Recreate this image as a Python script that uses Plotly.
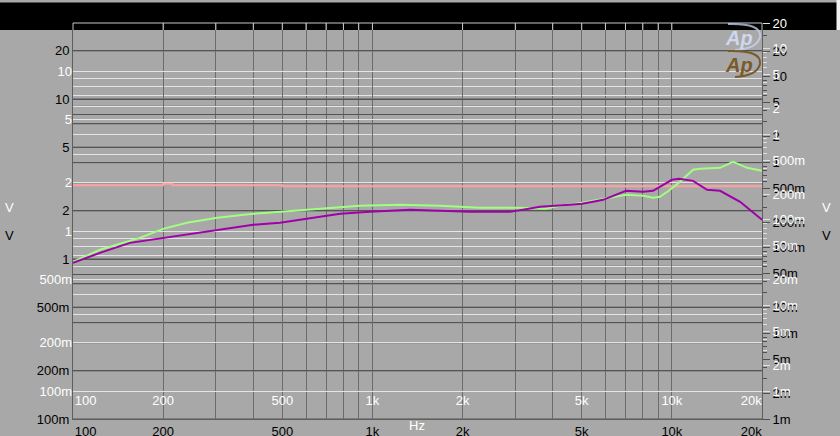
import math
import plotly.graph_objects as go

# ---------------- data ----------------
freq_purple = [100, 123, 155, 200, 303, 400, 491, 573, 780, 982, 1335, 1682,
               2100, 2882, 3629, 4571, 5013, 5456, 5890, 7031, 8014, 8653,
               10000, 10570, 11770, 13110, 14490, 16900, 20000]
volt_purple = [0.632, 0.730, 0.843, 0.906, 1.017, 1.093, 1.125, 1.174, 1.280,
               1.317, 1.356, 1.337, 1.317, 1.317, 1.416, 1.457, 1.479, 1.522,
               1.566, 1.783, 1.757, 1.783, 2.089, 2.119, 2.058, 1.809, 1.783,
               1.522, 1.174]

freq_green = [100, 123, 167, 200, 240, 303, 400, 491, 573, 722, 909, 1237,
              1682, 2288, 3112, 3771, 4233, 5013, 5758, 7031, 8014, 8653,
              9130, 9863, 10650, 11770, 12420, 14490, 16010, 17840, 20000]
volt_green = [0.642, 0.763, 0.906, 1.031, 1.125, 1.209, 1.280, 1.317, 1.356,
              1.396, 1.437, 1.457, 1.437, 1.396, 1.396, 1.376, 1.437, 1.500,
              1.566, 1.683, 1.659, 1.612, 1.635, 1.809, 2.029, 2.412, 2.446,
              2.482, 2.704, 2.482, 2.377]

freq_pink = [100, 190, 200, 215, 400, 500, 1000, 2000, 5000, 10000, 20000]
volt_pink = [1.929, 1.929, 1.971, 1.929, 1.929, 1.902, 1.902, 1.902, 1.902, 1.902, 1.902]

x_tickvals = [100, 200, 500, 1000, 2000, 5000, 10000, 20000]
x_ticktext = ["100", "200", "500", "1k", "2k", "5k", "10k", "20k"]
x_minor = [300, 400, 600, 700, 800, 900, 3000, 4000, 6000, 7000, 8000, 9000]

yl_tickvals = [0.1, 0.2, 0.5, 1, 2, 5, 10, 20]
yl_ticktext = ["100m", "200m", "500m", "1", "2", "5", "10", "20"]
yl_minor = [0.3, 0.4, 0.6, 0.7, 0.8, 0.9, 3, 4, 6, 7, 8, 9]

yr_tickvals = [0.001, 0.002, 0.005, 0.01, 0.02, 0.05, 0.1, 0.2, 0.5, 1, 2, 5, 10, 20]
yr_ticktext = ["1m", "2m", "5m", "10m", "20m", "50m", "100m", "200m", "500m",
               "1", "2", "5", "10", "20"]
yr_minor = [m * d for d in (0.001, 0.01, 0.1, 1) for m in (3, 4, 6, 7, 8, 9)] + [30]

# ---------------- geometry helpers (layout only) ----------------
W, H = 840, 436
L, R, T, B = 73, 762, 23, 419
PW, PH = R - L, B - T
OFF = 28  # vertical offset between the two superimposed graphs
PX_DEC_L = 160.0
PX_DEC_R = (B - 51) / math.log10(20 / 0.001)


def px(xp):
    return (xp - L) / PW


def py(yp):
    return (B - yp) / PH


BG = "#a8a8a8"
DARK = "#555555"
VGRID = "#6c6c6c"
LIGHT = "#e4e4e4"
FONT = "Liberation Sans, Arial, sans-serif"

NB = "\u00a0"
xt_text = [NB * 7 + x_ticktext[0]] + x_ticktext[1:-1] + [x_ticktext[-1] + NB * 6]

fig = go.Figure()
# empty traces so that every overlaid axis is instantiated and drawn
for xa, ya in (("x", "y"), ("x2", "y"), ("x", "y3"), ("x", "y4")):
    fig.add_trace(go.Scatter(x=[], y=[], xaxis=xa, yaxis=ya, mode="lines", hoverinfo="skip"))

fig.add_trace(go.Scatter(x=freq_pink, y=volt_pink, xaxis="x", yaxis="y2", mode="lines",
                         line=dict(color="#ffa0a0", width=2, shape="hv"), hoverinfo="skip"))
fig.add_trace(go.Scatter(x=freq_green, y=volt_green, xaxis="x", yaxis="y2", mode="lines",
                         line=dict(color="#a0ff80", width=2), hoverinfo="skip"))
fig.add_trace(go.Scatter(x=freq_purple, y=volt_purple, xaxis="x", yaxis="y2", mode="lines",
                         line=dict(color="#a000a8", width=2), hoverinfo="skip"))

xr = [2, math.log10(20000)]
tickfont_k = dict(family=FONT, size=13, color="#000000")
tickfont_w = dict(family=FONT, size=13, color="#ffffff")

yA = [-1, -1 + PH / PX_DEC_L]
yB = [-1 - OFF / PX_DEC_L, -1 - OFF / PX_DEC_L + PH / PX_DEC_L]
yRA = [-3, -3 + PH / PX_DEC_R]
yRB = [-3 - OFF / PX_DEC_R, -3 - OFF / PX_DEC_R + PH / PX_DEC_R]

fig.update_layout(
    width=W, height=H,
    margin=dict(l=L, r=W - R, t=T, b=H - B, pad=0),
    paper_bgcolor=BG, plot_bgcolor="rgba(0,0,0,0)",
    showlegend=False,
    xaxis=dict(type="log", range=xr, tickmode="array", tickvals=x_tickvals, ticktext=xt_text,
               tickfont=tickfont_k, ticks="", showgrid=True, gridcolor=VGRID, gridwidth=1,
               minor=dict(tickmode="array", tickvals=x_minor, showgrid=True, gridcolor=VGRID,
                          gridwidth=1, ticks=""),
               showline=True, linecolor="#5e5e5e", linewidth=1, zeroline=False,
               automargin=False, fixedrange=True),
    xaxis2=dict(type="log", range=xr, overlaying="x", anchor="free", position=py(B - OFF),
                tickmode="array", tickvals=x_tickvals, ticktext=xt_text, tickfont=tickfont_w,
                ticks="", showgrid=False, showline=False, zeroline=False, automargin=False),
    yaxis=dict(type="log", range=yA, tickmode="array", tickvals=yl_tickvals, ticktext=yl_ticktext,
               tickfont=tickfont_k, ticks="", showgrid=True, gridcolor=DARK, gridwidth=1,
               minor=dict(tickmode="array", tickvals=yl_minor, showgrid=True, gridcolor=DARK,
                          gridwidth=1, ticks=""),
               showline=True, linecolor="#5e5e5e", linewidth=1, zeroline=False,
               automargin=False),
    yaxis2=dict(type="log", range=yB, overlaying="y", anchor="x", side="left",
                tickmode="array", tickvals=yl_tickvals, ticktext=yl_ticktext,
                tickfont=tickfont_w, ticks="", showgrid=True, gridcolor=LIGHT, gridwidth=1,
                minor=dict(tickmode="array", tickvals=yl_minor, showgrid=True, gridcolor=LIGHT,
                           gridwidth=1, ticks=""),
                showline=False, zeroline=False, automargin=False),
    yaxis3=dict(type="log", range=yRA, overlaying="y", anchor="x", side="right",
                tickmode="array", tickvals=yr_tickvals, ticktext=yr_ticktext,
                tickfont=tickfont_k, ticks="outside", ticklen=7, tickcolor="#505050",
                showgrid=False,
                minor=dict(tickmode="array", tickvals=yr_minor, ticks="outside", ticklen=4,
                           tickcolor="#505050", showgrid=False),
                showline=True, linecolor="#5e5e5e", zeroline=False, automargin=False),
    yaxis4=dict(type="log", range=yRB, overlaying="y", anchor="x", side="right",
                tickmode="array", tickvals=yr_tickvals, ticktext=yr_ticktext,
                tickfont=tickfont_w, ticks="outside", ticklen=7, tickcolor="#e0e0e0",
                showgrid=False,
                minor=dict(tickmode="array", tickvals=yr_minor, ticks="outside", ticklen=4,
                           tickcolor="#e0e0e0", showgrid=False),
                showline=False, zeroline=False, automargin=False),
)

shapes = []
shapes.append(dict(type="rect", xref="paper", yref="paper", x0=px(-5), x1=px(W + 5),
                   y0=py(30), y1=py(2.5), fillcolor="#000000", line=dict(width=0), layer="below"))
shapes.append(dict(type="rect", xref="paper", yref="paper", x0=px(836.5), x1=px(W + 5),
                   y0=py(30), y1=py(-5), fillcolor="#f0f0f0", line=dict(width=0), layer="below"))
# dark horizontal grid of the lower (black-labelled) graph, through its y axis
for v in yl_tickvals + yl_minor:
    shapes.append(dict(type="line", xref="paper", yref="y", x0=0, x1=1, y0=v, y1=v,
                       line=dict(color=DARK, width=1), layer="between"))
for v in x_tickvals + x_minor:
    shapes.append(dict(type="line", xref="x", yref="paper", x0=v, x1=v, y0=py(30), y1=1,
                       line=dict(color="#c8c8c8", width=1), layer="above"))
shapes.append(dict(type="line", xref="paper", yref="paper", x0=0, x1=1, y0=1, y1=1,
                   line=dict(color="#c8c8c8", width=1), layer="above"))
# AP logo swooshes
for cy, col in ((37, "rgba(200,212,245,0.75)"), (64, "#7a5a28")):
    shapes.append(dict(type="path", xref="paper", yref="paper",
                       path=(f"M {px(728)},{py(cy - 13)} Q {px(762)},{py(cy - 14)} "
                             f"{px(760)},{py(cy)} Q {px(757)},{py(cy + 12)} {px(735)},{py(cy + 13)}"),
                       line=dict(color=col, width=2), layer="above"))
fig.update_layout(shapes=shapes)

ann = []


def txt(x, y, s, color, size=13, **kw):
    ann.append(dict(xref="paper", yref="paper", x=px(x), y=py(y), text=s, showarrow=False,
                    font=dict(family=FONT, size=size, color=color), xanchor="center",
                    yanchor="middle", **kw))


txt(10, 207, "V", "#ffffff")
txt(10, 235, "V", "#000000")
txt(826, 207, "V", "#ffffff")
txt(826, 235, "V", "#000000")
txt(417, 425, "Hz", "#ffffff")
txt(739, 38, "<b><i>Ap</i></b>", "rgba(215,225,250,0.85)", size=20)
txt(739, 65, "<b><i>Ap</i></b>", "#7a5a28", size=20)
fig.update_layout(annotations=ann)

fig.write_html("out.html", config={"displayModeBar": False},
               post_script="document.body.style.margin='0';")
